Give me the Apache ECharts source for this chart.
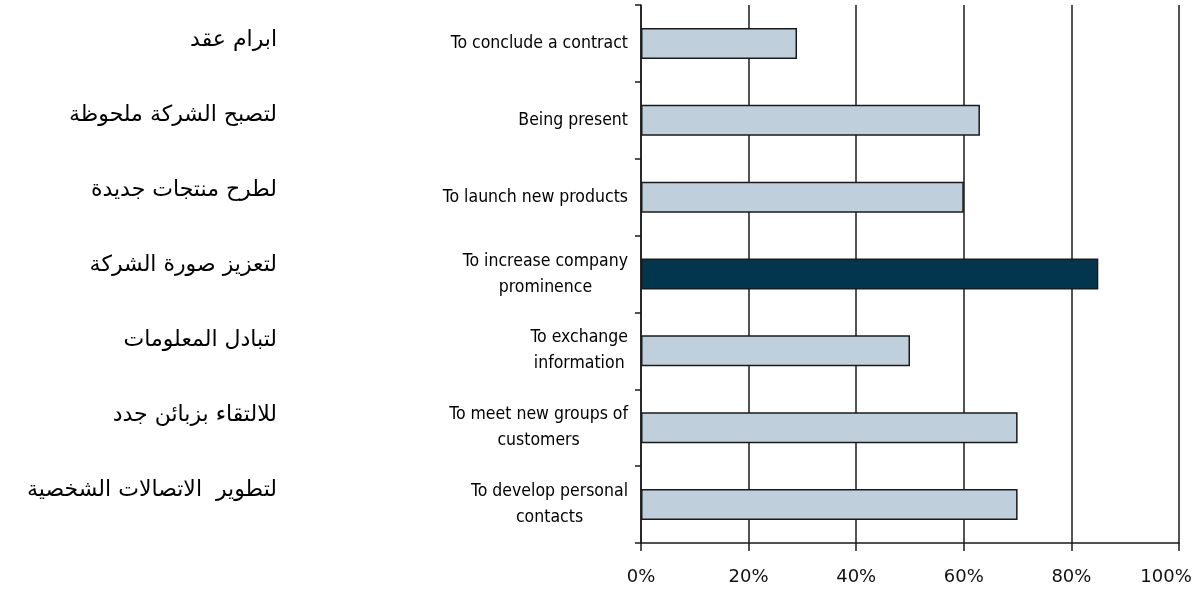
<!DOCTYPE html>
<html>
<head>
<meta charset="utf-8">
<script src="https://cdn.jsdelivr.net/npm/echarts@6/dist/echarts.min.js"></script>
<style>
html,body{margin:0;padding:0;background:#fff;}
#chart{width:1203px;height:595px;}
</style>
</head>
<body>
<div id="chart"></div>
<script>
const categories = [
  'To conclude a contract',
  'Being present',
  'To launch new products',
  'To increase company\nprominence',
  'To exchange\ninformation',
  'To meet new groups of\ncustomers',
  'To develop personal\ncontacts'
];
const values = [29, 63, 60, 85, 50, 70, 70];
const highlighted = [false, false, false, true, false, false, false];
const arabicLabels = [
  'ابرام عقد',
  'لتصبح الشركة ملحوظة',
  'لطرح منتجات جديدة',
  'لتعزيز صورة الشركة',
  'لتبادل المعلومات',
  'للالتقاء بزبائن جدد',
  'لتطوير  الاتصالات الشخصية'
];
const xTicks = [0, 20, 40, 60, 80, 100];

const chart = echarts.init(document.getElementById('chart'), null, {renderer: 'canvas'});
const lineColor = '#1a1a1a';
const xMax = xTicks[xTicks.length - 1];
chart.setOption({
  animation: false,
  backgroundColor: '#ffffff',
  grid: {left: 641, right: 24, top: 5, bottom: 52, containLabel: false},
  xAxis: {
    type: 'value',
    min: xTicks[0],
    max: xMax,
    interval: xTicks[1] - xTicks[0],
    axisLine: {show: true, lineStyle: {color: lineColor, width: 1.5}},
    axisTick: {show: true, length: 8, lineStyle: {color: lineColor, width: 1.5}},
    splitLine: {show: true, lineStyle: {color: lineColor, width: 1.5}},
    axisLabel: {
      margin: 25,
      formatter: v => (v === xMax ? '{m|' : '{n|') + v + '%}',
      rich: {
        n: {fontFamily: 'DejaVu Sans', fontSize: 18, color: '#111'},
        m: {fontFamily: 'DejaVu Sans', fontSize: 18, color: '#111', padding: [0, 26, 0, 0]}
      }
    }
  },
  yAxis: {
    type: 'category',
    inverse: true,
    data: categories,
    axisLine: {show: true, lineStyle: {color: lineColor, width: 1.5}},
    axisTick: {show: true, length: 6, lineStyle: {color: lineColor, width: 1.5}},
    splitLine: {show: false},
    axisLabel: {
      margin: 13,
      align: 'right',
      formatter: v => v.split('\n').map(l => '{c|' + l + '}').join('\n'),
      rich: {
        c: {
          align: 'center',
          fontFamily: "'Liberation Sans Narrow', 'DejaVu Sans Condensed', sans-serif",
          fontSize: 17.5,
          lineHeight: 26,
          color: '#000'
        }
      }
    }
  },
  series: [{
    type: 'bar',
    barWidth: 31,
    data: values.map((v, i) => ({
      value: v,
      itemStyle: {color: highlighted[i] ? '#02364f' : '#bfd0dc'}
    })),
    itemStyle: {borderColor: '#1a1a1a', borderWidth: 1.5}
  }],
  graphic: [{
    type: 'text',
    x: 277,
    y: 3,
    style: {
      text: arabicLabels.join('\n'),
      align: 'right',
      verticalAlign: 'top',
      fontFamily: "'DejaVu Sans', sans-serif",
      fontSize: 22,
      lineHeight: 75,
      fill: '#000'
    }
  }]
});
</script>
</body>
</html>
